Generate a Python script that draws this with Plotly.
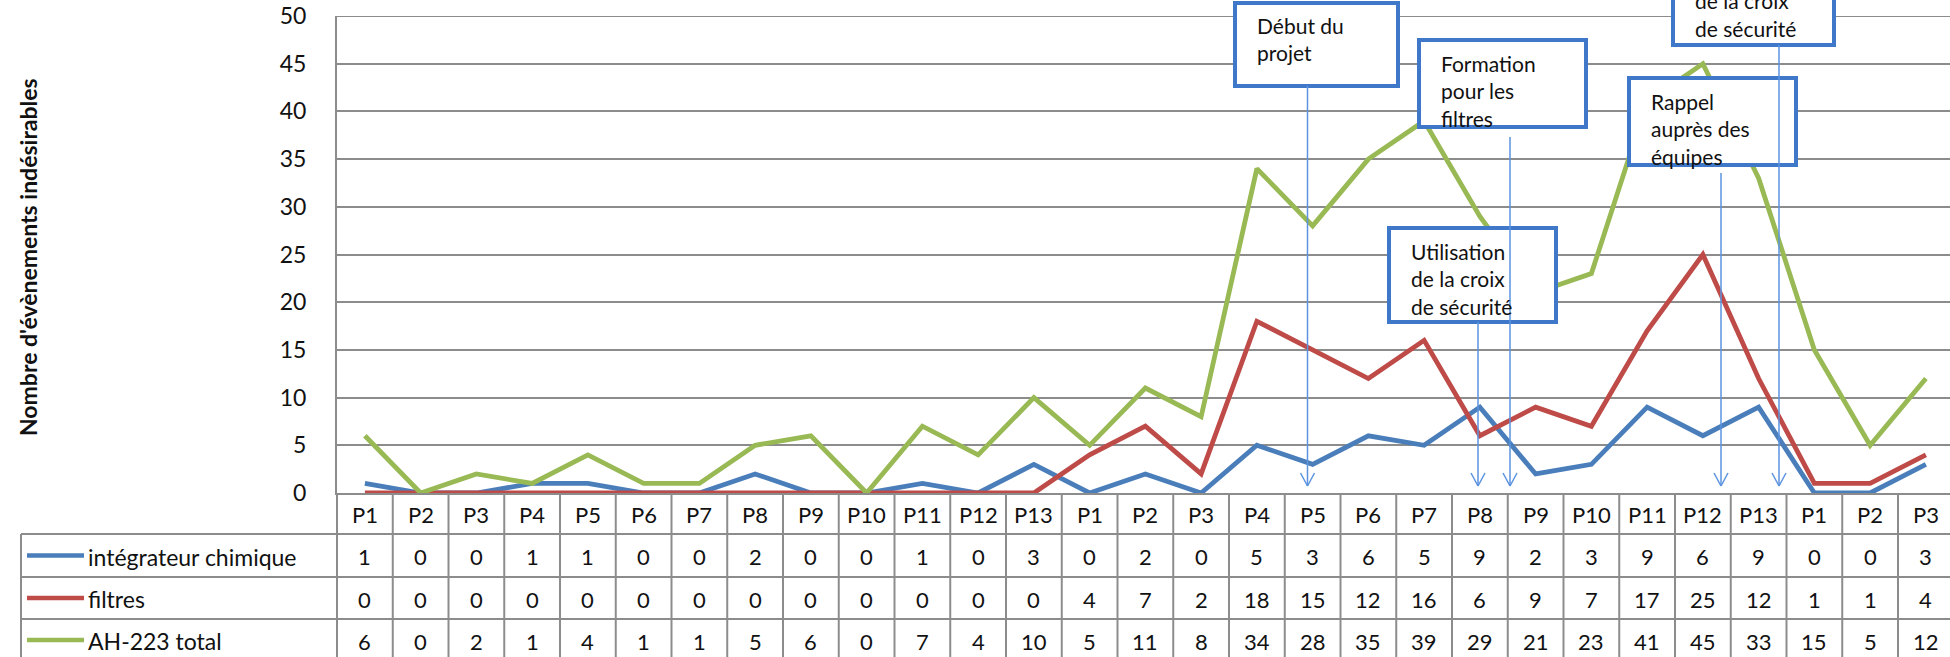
import plotly.graph_objects as go

# ---------------- data ----------------
periods = ["P1", "P2", "P3", "P4", "P5", "P6", "P7", "P8", "P9", "P10", "P11", "P12", "P13",
           "P1", "P2", "P3", "P4", "P5", "P6", "P7", "P8", "P9", "P10", "P11", "P12", "P13",
           "P1", "P2", "P3"]
integrateur = [1, 0, 0, 1, 1, 0, 0, 2, 0, 0, 1, 0, 3,
               0, 2, 0, 5, 3, 6, 5, 9, 2, 3, 9, 6, 9,
               0, 0, 3]
filtres = [0, 0, 0, 0, 0, 0, 0, 0, 0, 0, 0, 0, 0,
           4, 7, 2, 18, 15, 12, 16, 6, 9, 7, 17, 25, 12,
           1, 1, 4]
total = [6, 0, 2, 1, 4, 1, 1, 5, 6, 0, 7, 4, 10,
         5, 11, 8, 34, 28, 35, 39, 29, 21, 23, 41, 45, 33,
         15, 5, 12]
series_names = ["intégrateur chimique", "filtres", "AH-223 total"]
series_values = [integrateur, filtres, total]
series_colors = ["#4A7EBB", "#BE4B48", "#98B954"]
y_title = "Nombre d'évènements indésirables"
y_max, y_step = 50, 5

notes = ["Début du<br>projet",
         "Formation<br>pour les<br>filtres",
         "Utilisation<br>de la croix<br>de sécurité",
         "Rappel<br>auprès des<br>équipes",
         "Utilisation<br>de la croix<br>de sécurité"]

# ---------------- layout geometry (window pixels) ----------------
FW, FH = 1950, 657
L, T, PH = 337, 16, 477
PW = FW - L
B = FH - T - PH
COLW = 55.75
x_range = [-0.5, -0.5 + PW / COLW]

def px(xw):
    return (xw - L) / PW

def py(yw):
    return (T + PH - yw) / PH

GRID = "#8C8C8C"
FONT = "Lato"
TXT = "#111111"

n = len(periods)
xs = list(range(n))

fig = go.Figure()
for name, vals, col in zip(series_names, series_values, series_colors):
    fig.add_trace(go.Scatter(x=xs, y=vals, mode="lines", name=name,
                             line=dict(color=col, width=4.8), showlegend=False,
                             cliponaxis=False))

shapes = []
annotations = []

def txt_ann(x, y, text, xref="paper", size=22, xanchor="center", yanchor="middle", **kw):
    d = dict(x=x, y=y, xref=xref, yref="paper", text=text, showarrow=False,
             xanchor=xanchor, yanchor=yanchor, borderpad=0, borderwidth=0,
             font=dict(family=FONT, size=size, color=TXT))
    d.update(kw)
    return d

# top gridline (kept explicit)
shapes.append(dict(type="line", xref="paper", yref="y", x0=0, x1=1, y0=y_max, y1=y_max,
                   line=dict(color=GRID, width=2), layer="below"))

# ---------------- data table ----------------
row_edges = [493, 534, 577, 619, 661]
row_centers = [(row_edges[i] + row_edges[i + 1]) / 2 + 1 for i in range(4)]
for i in range(n + 1):
    shapes.append(dict(type="line", xref="x", yref="paper", x0=i - 0.5, x1=i - 0.5,
                       y0=py(row_edges[0]), y1=py(row_edges[-1]),
                       line=dict(color=GRID, width=2), layer="above"))
for e in row_edges[1:]:
    shapes.append(dict(type="line", xref="paper", yref="paper", x0=px(21), x1=1,
                       y0=py(e), y1=py(e), line=dict(color=GRID, width=2)))
shapes.append(dict(type="line", xref="paper", yref="paper", x0=px(21), x1=px(21),
                   y0=py(row_edges[1]), y1=py(row_edges[-1]), line=dict(color=GRID, width=2)))
shapes.append(dict(type="line", xref="paper", yref="paper", x0=0, x1=0,
                   y0=py(row_edges[0]), y1=py(row_edges[-1]), line=dict(color=GRID, width=2)))

for i, lab in enumerate(periods):
    annotations.append(txt_ann(i, py(row_centers[0]), lab, xref="x", size=22))
for r, (name, vals, col) in enumerate(zip(series_names, series_values, series_colors)):
    yc = py(row_centers[r + 1])
    for i, v in enumerate(vals):
        annotations.append(txt_ann(i, yc, str(v), xref="x", size=22))
    shapes.append(dict(type="line", xref="paper", yref="paper", x0=px(27), x1=px(84),
                       y0=py(row_centers[r + 1] - 1), y1=py(row_centers[r + 1] - 1),
                       line=dict(color=col, width=4.5)))
    annotations.append(txt_ann(px(88), yc, name, size=23, xanchor="left"))

# y axis title
annotations.append(txt_ann(px(28), py(257), "<b>" + y_title + "</b>", size=23, textangle=-90))

# ---------------- callout boxes and arrows ----------------
BOXC = "#3F78C9"
ARRC = "#5B93E0"
BOX_FS = 21
boxes = [  # x0, y0, x1, y1, first-line centre y, arrow x, arrow start y  (window px)
    (1235, 3, 1398, 86, 27, 1307.5, 86),
    (1419, 40, 1586, 127, 65, 1510, 137),
    (1389, 228, 1556, 322, 253, 1478, 322),
    (1629, 78, 1796, 165, 103, 1721, 173),
    (1673, -49, 1834, 45, -25, 1779, 45),
]
tip = 486
for (x0, y0, x1, y1, c1, ax_, ay), txt in zip(boxes, notes):
    shapes.append(dict(type="rect", xref="paper", yref="paper", x0=px(x0), x1=px(x1),
                       y0=py(y0), y1=py(y1), fillcolor="white",
                       line=dict(color=BOXC, width=4), layer="above"))
    annotations.append(txt_ann(px(x0 + 22), py(c1 - BOX_FS * 1.3 / 2), txt, size=BOX_FS,
                               xanchor="left", yanchor="top", align="left"))
for (x0, y0, x1, y1, c1, ax_, ay) in boxes:
    shapes.append(dict(type="line", xref="paper", yref="paper", x0=px(ax_), x1=px(ax_),
                       y0=py(ay), y1=py(tip), line=dict(color=ARRC, width=1.5), layer="above"))
    for d in (-7, 7):
        shapes.append(dict(type="line", xref="paper", yref="paper", x0=px(ax_), x1=px(ax_ + d),
                           y0=py(tip), y1=py(tip - 13), line=dict(color=ARRC, width=1.5),
                           layer="above"))

fig.update_layout(
    width=FW, height=FH,
    margin=dict(l=L, r=0, t=T, b=B, pad=0),
    paper_bgcolor="white", plot_bgcolor="white",
    xaxis=dict(range=x_range, showticklabels=False, showgrid=False, zeroline=False,
               showline=True, linecolor=GRID, linewidth=2, ticks=""),
    yaxis=dict(range=[0, y_max], dtick=y_step, tick0=0, showgrid=True, gridcolor=GRID,
               gridwidth=2, zeroline=False, showline=True, linecolor=GRID, linewidth=2,
               ticks="", ticklabelstandoff=24, ticklabeloverflow="allow",
               tickfont=dict(family=FONT, size=23, color=TXT)),
    shapes=shapes, annotations=annotations,
)

fig.write_html("out.html", config={"displayModeBar": False},
               post_script="document.body.style.margin='0';document.body.style.overflow='hidden';")
